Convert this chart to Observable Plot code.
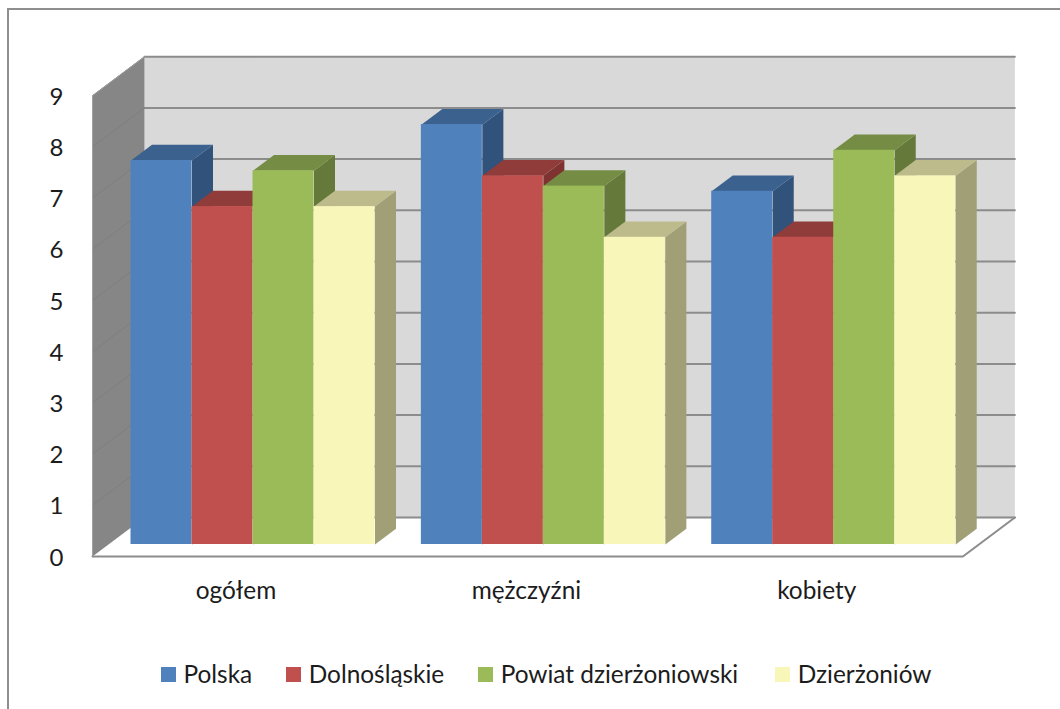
<!DOCTYPE html>
<html lang="pl">
<head>
<meta charset="utf-8">
<script src="https://cdn.jsdelivr.net/npm/d3@7"></script>
<script src="https://cdn.jsdelivr.net/npm/@observablehq/plot@0.6"></script>
<style>
  html, body { margin: 0; padding: 0; background: #fff; width: 1060px; height: 709px; overflow: hidden; }
  body { position: relative; font-family: Lato, Carlito, sans-serif; color: #1c1c1c; }
  #frame { position: absolute; left: 7px; top: 8px; width: 1200px; height: 900px; border-left: 2px solid #8e8e8e; border-top: 2px solid #8e8e8e; }
  #chart { position: absolute; left: 0; top: 0; }
  #chart svg { display: block; background: transparent; }
  #legend { position: absolute; left: 161px; top: 660px; display: flex; align-items: center; font-size: 24.4px; line-height: 28px; white-space: nowrap; }
  #legend .item { display: flex; align-items: center; margin-right: 34px; }
  #legend .item:nth-child(3) { margin-right: 37px; }
  #legend .swatch { width: 15px; height: 15px; margin-right: 7.5px; flex: none; }
</style>
</head>
<body>
<div id="frame"></div>
<div id="chart"></div>
<div id="legend"></div>
<script>
const categories = ["ogółem", "mężczyźni", "kobiety"];
const seriesNames = ["Polska", "Dolnośląskie", "Powiat dzierżoniowski", "Dzierżoniów"];
const polska = [7.5, 8.2, 6.9];
const dolnoslaskie = [6.6, 7.2, 6.0];
const powiat = [7.3, 7.0, 7.7];
const dzierzoniow = [6.6, 6.0, 7.2];
const seriesValues = [polska, dolnoslaskie, powiat, dzierzoniow];
const frontColors = ["#4f81bd", "#c0504d", "#9bbb59", "#f9f6b9"];
const topColors = ["#3b618e", "#903c3a", "#748c43", "#bdbb8b"];
const sideColors = ["#31527a", "#7f3331", "#64793a", "#a19f76"];
const yTicks = [0, 1, 2, 3, 4, 5, 6, 7, 8, 9];

// Data space: one x unit = one bar width, one y unit = one value unit.
// A "depth" coordinate projects oblique 3D into those two units.
const depthX = 20 / 61, depthY = 15 / 51.2;
const groupStep = 4.76, barWidth = 1, barDepth = 1.05;
const depthFront = -0.8, depthBack = 1.8;
const colLeft = -0.369, colRight = 13.9, maxValue = 9;
const project = (col, value, depth) => ({x: col + depth * depthX, y: value + depth * depthY});

const polygon = (id, color, corners) =>
  corners.map(([c, v, d]) => ({id, color, ...project(c, v, d)}));

const bars = [];
categories.forEach((cat, g) => seriesNames.forEach((s, k) => {
  const x1 = g * groupStep + k * barWidth;
  bars.push({x1, x2: x1 + barWidth, value: seriesValues[k][g], k});
}));

const sides = bars.flatMap((b, i) => polygon("side" + i, sideColors[b.k], [
  [b.x2, 0, 0], [b.x2, b.value, 0], [b.x2, b.value, barDepth], [b.x2, 0, barDepth]
]));
const tops = bars.flatMap((b, i) => polygon("top" + i, topColors[b.k], [
  [b.x1, b.value, 0], [b.x2, b.value, 0], [b.x2, b.value, barDepth], [b.x1, b.value, barDepth]
]));

const backWall = polygon("back", "#d9d9d9", [
  [colLeft, 0, depthBack], [colRight, 0, depthBack], [colRight, maxValue, depthBack], [colLeft, maxValue, depthBack]
]);
const leftWall = polygon("left", "#868686", [
  [colLeft, 0, depthFront], [colLeft, maxValue, depthFront], [colLeft, maxValue, depthBack], [colLeft, 0, depthBack]
]);
const floorEdge = polygon("floor", "#8c8c8c", [[colLeft, 0, depthFront], [colRight, 0, depthFront], [colRight, 0, depthBack]]);
const backGrid = yTicks.flatMap(v => polygon("g" + v, "#8c8c8c", [[colLeft, v, depthBack], [colRight, v, depthBack]]));
const leftGrid = yTicks.slice(1).flatMap(v => polygon("l" + v, "#7f7f7f", [[colLeft, v, depthFront], [colLeft, v, depthBack]]));
const leftOutline = polygon("lo", "#a0a0a0", [[colLeft, 0, depthFront], [colLeft, maxValue, depthFront], [colLeft, maxValue, depthBack]]);

const groupCenters = categories.map((c, g) => g * groupStep + 2 * barWidth);

const fontFamily = "Lato, Carlito, sans-serif";
const chart = Plot.plot({
  width: 1060,
  height: 640,
  marginLeft: 63,
  marginRight: 0,
  marginTop: 0,
  marginBottom: 83,
  style: {fontFamily, background: "transparent", color: "#1c1c1c"},
  x: {domain: [0, 1], range: [130.5, 191.5]},
  y: {domain: [0, 1], range: [544, 492.8]},
  color: {type: "identity"},
  marks: [
    Plot.line(backWall, {x: "x", y: "y", z: "id", fill: "color", stroke: "none"}),
    Plot.line(leftWall, {x: "x", y: "y", z: "id", fill: "color", stroke: "none"}),
    Plot.line(backGrid, {x: "x", y: "y", z: "id", stroke: "#8c8c8c", strokeWidth: 2}),
    Plot.line(leftGrid, {x: "x", y: "y", z: "id", stroke: "#7f7f7f", strokeWidth: 1}),
    Plot.line(leftOutline, {x: "x", y: "y", z: "id", stroke: "#a0a0a0", strokeWidth: 1}),
    Plot.line(floorEdge, {x: "x", y: "y", z: "id", stroke: "#8c8c8c", strokeWidth: 2}),
    Plot.line(sides, {x: "x", y: "y", z: "id", fill: "color", stroke: "none"}),
    Plot.line(tops, {x: "x", y: "y", z: "id", fill: "color", stroke: "none"}),
    Plot.rect(bars, {x1: "x1", x2: "x2", y1: () => 0, y2: "value", fill: d => frontColors[d.k]}),
    Plot.axisY({ticks: yTicks, tickSize: 0, tickPadding: 0, dy: 13.5, label: null, fontSize: 24, anchor: "left", tickFormat: d => String(d)}),
    Plot.axisX({ticks: groupCenters, tickSize: 0, tickPadding: 24, dx: -17, label: null, fontSize: 24.4, anchor: "bottom", tickFormat: (d, i) => categories[i]})
  ]
});
document.getElementById("chart").append(chart);

const legend = document.getElementById("legend");
seriesNames.forEach((name, k) => {
  const item = document.createElement("div");
  item.className = "item";
  const sw = document.createElement("span");
  sw.className = "swatch";
  sw.style.background = frontColors[k];
  const label = document.createElement("span");
  label.textContent = name;
  item.append(sw, label);
  legend.append(item);
});
</script>
</body>
</html>
